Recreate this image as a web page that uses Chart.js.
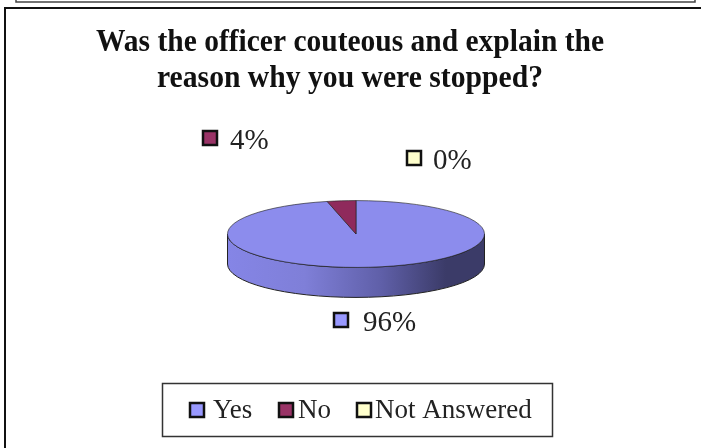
<!DOCTYPE html>
<html>
<head>
<meta charset="utf-8">
<script src="https://cdn.jsdelivr.net/npm/chart.js@4"></script>
<style>
  html, body { margin: 0; padding: 0; background: #fff; }
  #wrap { width: 706px; height: 448px; }
</style>
</head>
<body>
<div id="wrap"><canvas id="chart" width="706" height="448"></canvas></div>
<script>
const titleLines = ["Was the officer couteous and explain the", "reason why you were stopped?"];
const categories = ["Yes", "No", "Not Answered"];
const values = [96.4, 3.6, 0];
const percentLabels = ["96%", "4%", "0%"];
const sliceColors = ["#8c8ced", "#8f2a5c", "#ffffcc"];
const swatchColors = ["#9999ff", "#993366", "#ffffcc"];

const FLATTEN = 0.26;
const DEPTH = 30;
const serif = '"Liberation Serif", "Times New Roman", serif';

// where each percent label sits: [swatch x, swatch y, text x, baseline y]
const labelSpots = [
  [334, 313, 363, 331],
  [203, 131, 230, 149],
  [407, 151, 433, 169],
];
const legendSpots = [
  [190, 213],
  [279, 298],
  [357, 375],
];

function swatch(ctx, x, y, size, color, lw) {
  ctx.fillStyle = color;
  ctx.strokeStyle = "#111";
  ctx.lineWidth = lw;
  ctx.fillRect(x, y, size, size);
  ctx.strokeRect(x, y, size, size);
}

// flattens the pie and puts the side wall under it
const flatPie = {
  id: "flatPie",
  beforeDatasetsDraw(chart) {
    const ctx = chart.ctx;
    const arc = chart.getDatasetMeta(0).data[0];
    const { x, y, outerRadius: r } = arc;
    const ry = r * FLATTEN;
    const grad = ctx.createLinearGradient(x - r, 0, x + r, 0);
    grad.addColorStop(0, "#8585e6");
    grad.addColorStop(0.3, "#7f7fd8");
    grad.addColorStop(0.6, "#5f5fa8");
    grad.addColorStop(0.85, "#3b3b68");
    grad.addColorStop(1, "#3b3b68");
    ctx.save();
    ctx.beginPath();
    ctx.ellipse(x, y, r, ry, 0, 0, Math.PI);
    ctx.lineTo(x - r, y + DEPTH);
    ctx.ellipse(x, y + DEPTH, r, ry, 0, Math.PI, 0, true);
    ctx.closePath();
    ctx.fillStyle = grad;
    ctx.fill();
    ctx.strokeStyle = "#222";
    ctx.lineWidth = 1;
    ctx.stroke();
    ctx.restore();
    ctx.save();
    ctx.translate(0, y);
    ctx.scale(1, FLATTEN);
    ctx.translate(0, -y);
  },
  afterDatasetsDraw(chart) {
    chart.ctx.restore();
  },
  afterDraw(chart) {
    const ctx = chart.ctx;
    ctx.save();
    ctx.textBaseline = "alphabetic";

    // page frame, open on the right
    ctx.strokeStyle = "#111";
    ctx.lineWidth = 2;
    ctx.beginPath();
    ctx.moveTo(5, 448);
    ctx.lineTo(5, 8);
    ctx.lineTo(701, 8);
    ctx.stroke();
    ctx.lineWidth = 1.5;
    ctx.strokeStyle = "#444";
    ctx.beginPath();
    ctx.moveTo(16, 0);
    ctx.lineTo(16, 2);
    ctx.lineTo(695, 2);
    ctx.lineTo(695, 0);
    ctx.stroke();

    // title
    ctx.fillStyle = "#111";
    ctx.font = "bold 32px " + serif;
    ctx.textAlign = "center";
    ctx.fillText(titleLines[0], 350, 51, 508);
    ctx.fillText(titleLines[1], 350, 87, 386);
    ctx.textAlign = "left";

    // percent labels
    ctx.font = "29px " + serif;
    percentLabels.forEach((txt, i) => {
      const s = labelSpots[i];
      swatch(ctx, s[0], s[1], 14, swatchColors[i], 2.5);
      ctx.fillStyle = "#222";
      ctx.fillText(txt, s[2], s[3]);
    });

    // legend box
    ctx.strokeStyle = "#333";
    ctx.lineWidth = 1.5;
    ctx.strokeRect(162.5, 383.5, 390, 53);
    ctx.font = "27px " + serif;
    categories.forEach((txt, i) => {
      const s = legendSpots[i];
      swatch(ctx, s[0], 403, 14, swatchColors[i], 2.5);
      ctx.fillStyle = "#222";
      ctx.fillText(txt, s[1], 418);
    });
    ctx.restore();
  }
};

new Chart(document.getElementById("chart"), {
  type: "pie",
  data: {
    labels: categories,
    datasets: [{
      data: values,
      backgroundColor: sliceColors,
      borderColor: "#222",
      borderWidth: 1,
      borderAlign: "center"
    }]
  },
  options: {
    responsive: false,
    animation: false,
    layout: { padding: { left: 227, right: 221, top: 105, bottom: 85 } },
    plugins: {
      legend: { display: false },
      title: { display: false },
      tooltip: { enabled: false }
    }
  },
  plugins: [flatPie]
});
</script>
</body>
</html>
